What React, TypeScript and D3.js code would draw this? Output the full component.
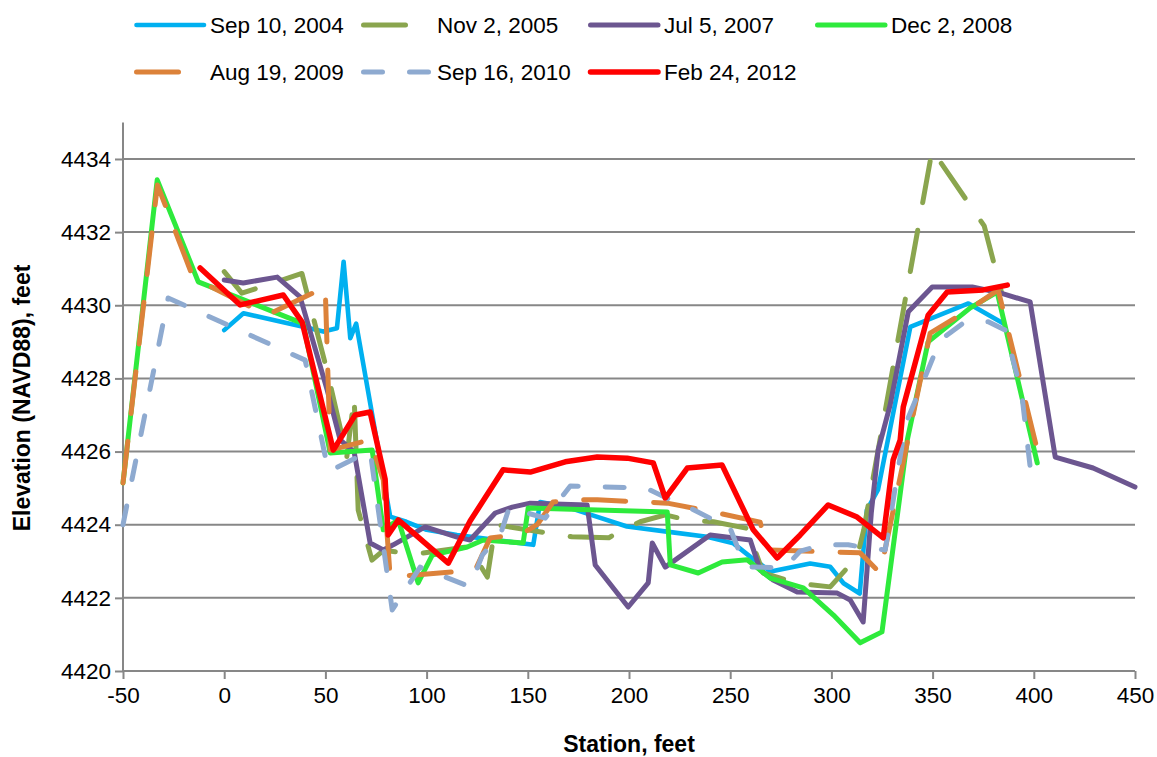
import React, { useEffect, useRef } from 'react';
import * as d3 from 'd3';

// station (ft) / elevation (ft) pairs
const sep2004Station = [0, 9.5, 39, 49, 55.7, 59, 62.3, 65.2, 82, 90, 100, 115, 123, 152.7, 156.1, 169.5, 179, 199, 218.7, 238.5, 251.6, 260, 270, 289.5, 299.4, 306, 314, 317.5, 323, 339, 367.7, 385];
const sep2004Elev = [4429.32, 4429.78, 4429.41, 4429.28, 4429.37, 4431.19, 4429.1, 4429.5, 4424.22, 4424.08, 4423.86, 4423.72, 4423.66, 4423.45, 4424.62, 4424.48, 4424.31, 4423.95, 4423.81, 4423.67, 4423.49, 4423.12, 4422.72, 4422.94, 4422.85, 4422.4, 4422.12, 4424.4, 4424.95, 4429.41, 4430.05, 4429.5];

const nov2005Station = [0, 8.7, 38.4, 51, 60.6, 64.2, 66.2, 73, 78.7, 86, 97.6, 120.7, 130, 134, 160, 171.8, 190, 194.8, 205.5, 218, 228.6, 241.7, 258.4, 266.3, 283, 299.4, 312.7, 316, 349.8, 353.8, 375.5, 384];
const nov2005Elev = [4430.92, 4430.33, 4430.87, 4428.17, 4425.86, 4427.49, 4424.4, 4423.03, 4423.3, 4423.25, 4423.22, 4423.4, 4422.57, 4424.0, 4423.77, 4423.67, 4423.64, 4423.81, 4424.08, 4424.27, 4424.13, 4424.08, 4423.9, 4422.68, 4422.4, 4422.3, 4423.12, 4423.86, 4434.25, 4433.92, 4432.17, 4430.36];

const jul2007Station = [0, 9.4, 26.2, 37.5, 50.9, 57.3, 64.2, 72.1, 78.6, 83.5, 99.3, 115.1, 121.5, 133.9, 142.3, 151.2, 179.3, 183.3, 199.6, 209.5, 211.5, 217.9, 240.1, 259.9, 264.8, 271.2, 283.1, 302.9, 309.3, 315.7, 319.7, 323.1, 329, 338, 349.8, 369.6, 383.4, 398.2, 410.6, 429.3, 450];
const jul2007Elev = [4430.69, 4430.61, 4430.77, 4430.23, 4427.68, 4426.32, 4425.99, 4423.5, 4423.31, 4423.45, 4423.94, 4423.66, 4423.58, 4424.32, 4424.48, 4424.59, 4424.54, 4422.9, 4421.75, 4422.41, 4423.5, 4422.84, 4423.72, 4423.58, 4422.76, 4422.49, 4422.16, 4422.13, 4421.94, 4421.34, 4424.32, 4426.04, 4427.27, 4429.82, 4430.5, 4430.5, 4430.34, 4430.09, 4425.85, 4425.55, 4425.03];

const dec2008Station = [-50, -33.1, -12.8, 39, 52.4, 73.1, 78.6, 86, 95.8, 102.8, 120.1, 128, 147.7, 150.2, 218.9, 220.4, 234.2, 246, 258.4, 269.8, 286.1, 301, 314.2, 325, 337.5, 347.8, 368.6, 381.9, 401.7];
const dec2008Elev = [4425.14, 4433.43, 4430.64, 4429.5, 4425.96, 4426.04, 4423.86, 4424.13, 4422.41, 4423.17, 4423.39, 4423.58, 4423.5, 4424.46, 4424.35, 4422.9, 4422.68, 4422.98, 4423.04, 4422.54, 4422.27, 4421.53, 4420.77, 4421.07, 4426.32, 4429.0, 4429.93, 4430.36, 4425.69];

const aug2009Station = [-50, -33, -15.3, 21.2, 49.9, 52.4, 72.1, 78.6, 82, 124, 131.4, 146.2, 154.6, 162.5, 171.9, 184.3, 218.9, 241.6, 264.8, 268.3, 303, 314.2, 324.1, 348.8, 367.6, 382.4, 403.2];
const aug2009Elev = [4425.14, 4433.29, 4430.75, 4429.73, 4430.5, 4426.04, 4426.32, 4425.22, 4422.57, 4422.76, 4423.64, 4423.72, 4424.0, 4424.62, 4424.68, 4424.68, 4424.59, 4424.35, 4424.07, 4423.31, 4423.25, 4423.23, 4422.68, 4429.24, 4429.87, 4430.42, 4425.71];

const sep2010Station = [-50, -27.7, 40, 51.5, 72.1, 83, 96.8, 121.5, 127.5, 136.4, 141, 151, 158.6, 171, 208.5, 218.9, 229, 240, 249, 257.4, 277, 284.6, 296, 308.3, 318.2, 326.6, 336.5, 353.8, 366, 377.5, 385.9, 394, 398.2];
const sep2010Elev = [4424.0, 4430.2, 4428.5, 4425.45, 4426.02, 4421.67, 4422.84, 4422.3, 4423.17, 4423.72, 4424.5, 4424.3, 4424.18, 4425.06, 4425.0, 4424.72, 4424.49, 4424.18, 4424.04, 4422.85, 4422.82, 4423.28, 4423.45, 4423.45, 4423.36, 4423.31, 4426.73, 4429.05, 4429.55, 4429.55, 4429.32, 4427.6, 4425.58];

const feb2012Station = [-11.9, 7.9, 29.2, 38.5, 53.9, 64.7, 72.1, 79.5, 81, 86, 110.7, 121.5, 137.8, 151.2, 168.5, 184.3, 199.1, 212, 217.9, 228.8, 246, 261.4, 273.2, 284.6, 298.4, 312.7, 325.6, 330.5, 334, 335.5, 347.8, 357.2, 375, 386.9];
const feb2012Elev = [4431.02, 4430.01, 4430.28, 4429.54, 4426.04, 4427.0, 4427.08, 4425.25, 4423.72, 4424.13, 4422.95, 4424.1, 4425.5, 4425.44, 4425.72, 4425.85, 4425.82, 4425.69, 4424.73, 4425.55, 4425.63, 4423.86, 4423.09, 4423.72, 4424.54, 4424.21, 4423.64, 4425.77, 4426.32, 4427.22, 4429.73, 4430.36, 4430.42, 4430.55];

const seriesNames = ['Sep 10, 2004', 'Nov 2, 2005', 'Jul 5, 2007', 'Dec 2, 2008', 'Aug 19, 2009', 'Sep 16, 2010', 'Feb 24, 2012'];
const elevTicks = [4420, 4422, 4424, 4426, 4428, 4430, 4432, 4434];
const stationTicks = [-50, 0, 50, 100, 150, 200, 250, 300, 350, 400, 450];

const series = [
  { name: seriesNames[0], st: sep2004Station, el: sep2004Elev, color: '#00b0f0', dash: null, w: 4.6 },
  { name: seriesNames[1], st: nov2005Station, el: nov2005Elev, color: '#8aa54e', dash: '42,28', w: 5 },
  { name: seriesNames[2], st: jul2007Station, el: jul2007Elev, color: '#6c5690', dash: null, w: 5 },
  { name: seriesNames[3], st: dec2008Station, el: dec2008Elev, color: '#2eea3c', dash: null, w: 5 },
  { name: seriesNames[4], st: aug2009Station, el: aug2009Elev, color: '#dc823a', dash: '42,28', w: 5 },
  { name: seriesNames[5], st: sep2010Station, el: sep2010Elev, color: '#8eaad0', dash: '19,27', w: 5 },
  { name: seriesNames[6], st: feb2012Station, el: feb2012Elev, color: '#ff0000', dash: null, w: 5.5 },
];

const FONT = '"Liberation Sans", Arial, sans-serif';

const App = () => {
  const svgRef = useRef(null);

  useEffect(() => {
    const svg = d3.select(svgRef.current);
    svg.selectAll('*').remove();

    const margin = { top: 122.4, right: 22, bottom: 86, left: 123 };
    const width = 1157 - margin.left - margin.right;
    const height = 757 - margin.top - margin.bottom;

    const x = d3.scaleLinear().domain([-50, 450]).range([0, width]);
    const y = d3.scaleLinear().domain([4420, 4435]).range([height, 0]);

    const chart = svg.append('g')
      .attr('transform', `translate(${margin.left},${margin.top})`);

    // gridlines
    chart.append('g')
      .selectAll('line')
      .data(elevTicks.filter(d => d > 4420))
      .enter().append('line')
      .attr('x1', 0).attr('x2', width)
      .attr('y1', d => y(d)).attr('y2', d => y(d))
      .attr('stroke', '#878787')
      .attr('stroke-width', 2);

    const yAxis = chart.append('g')
      .call(d3.axisLeft(y).tickValues(elevTicks).tickSize(8).tickPadding(4).tickFormat(d => String(d)));
    const xAxis = chart.append('g')
      .attr('transform', `translate(0,${height})`)
      .call(d3.axisBottom(x).tickValues(stationTicks).tickSize(8).tickPadding(8).tickFormat(d => String(d)));

    [yAxis, xAxis].forEach(a => {
      a.select('.domain').attr('stroke', '#878787').attr('stroke-width', 2);
      a.selectAll('.tick line').attr('stroke', '#878787').attr('stroke-width', 2);
      a.selectAll('text')
        .attr('fill', '#000')
        .style('font-family', FONT)
        .style('font-size', '22.5px');
    });
    xAxis.select('.domain').attr('d', `M0,0H${width}`);
    yAxis.select('.domain').attr('d', `M0,${height}V0`);

    const line = d3.line().x(d => x(d[0])).y(d => y(d[1]));

    series.forEach(s => {
      chart.append('path')
        .datum(s.st.map((v, i) => [v, s.el[i]]))
        .attr('d', line)
        .attr('fill', 'none')
        .attr('stroke', s.color)
        .attr('stroke-width', s.w)
        .attr('stroke-linecap', 'round')
        .attr('stroke-linejoin', 'round')
        .attr('stroke-dasharray', s.dash);
    });

    // axis titles
    svg.append('text')
      .attr('x', margin.left + width / 2)
      .attr('y', 752)
      .attr('text-anchor', 'middle')
      .style('font-family', FONT)
      .style('font-size', '23px')
      .style('font-weight', 'bold')
      .text('Station, feet');

    svg.append('text')
      .attr('transform', 'translate(30,398) rotate(-90)')
      .attr('text-anchor', 'middle')
      .style('font-family', FONT)
      .style('font-size', '23px')
      .style('font-weight', 'bold')
      .text('Elevation (NAVD88), feet');

    // legend
    const cols = [134, 361, 588, 815];
    const rows = [25, 72];
    const legend = svg.append('g');
    series.forEach((s, i) => {
      const cx = cols[i < 4 ? i : i - 4];
      const cy = rows[i < 4 ? 0 : 1];
      legend.append('line')
        .attr('x1', cx + 2.5).attr('x2', cx + 70)
        .attr('y1', cy).attr('y2', cy)
        .attr('stroke', s.color)
        .attr('stroke-width', s.w)
        .attr('stroke-linecap', 'round')
        .attr('stroke-dasharray', s.dash);
      legend.append('text')
        .attr('x', cx + 76)
        .attr('y', cy + 8)
        .style('font-family', FONT)
        .style('font-size', '22.5px')
        .text(s.name);
    });
  }, []);

  return <svg ref={svgRef} width="1157" height="757" style={{ position: 'absolute', left: 0, top: 0, background: '#fff' }}></svg>;
};

export default App;
